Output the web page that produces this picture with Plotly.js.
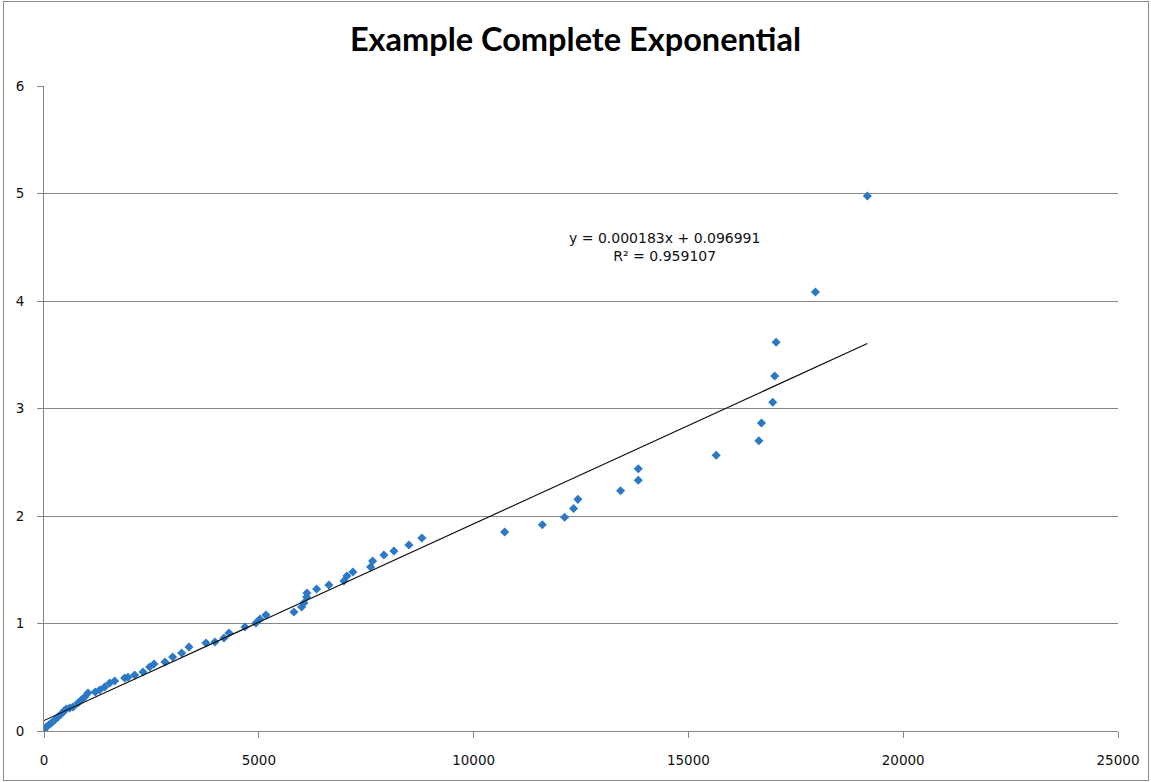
<!DOCTYPE html>
<html>
<head>
<meta charset="utf-8">
<script src="https://cdn.plot.ly/plotly-3.0.1.min.js"></script>
<style>
  html, body { margin: 0; padding: 0; background: #fff; }
  #chart { width: 1151px; height: 782px; }
  #frame { position: absolute; left: 3px; top: 1px; width: 1144px; height: 778px; border: 1px solid #8c8c8c; pointer-events: none; }
</style>
</head>
<body>
<div id="chart"></div>
<div id="frame"></div>
<script>
// Data points
const xValues = [0, 54, 109, 170, 249, 326, 403, 465, 519, 598, 675, 791, 868, 947, 1024,
  1194, 1296, 1412, 1529, 1645, 1878, 1955, 2111, 2304, 2460, 2560, 2816, 2995, 3204, 3374,
  3770, 3979, 4189, 4305, 4677, 4933, 5026, 5166, 5818, 5997, 6050, 6113, 6120, 6346, 6632,
  6981, 7051, 7190, 7602, 7649, 7912, 8145, 8494, 8796,
  10723, 11600, 12119, 12328, 12428, 13421, 13833, 13833, 15647, 16640, 16700, 16963, 17010,
  17042, 17957, 19166];
const yValues = [0, 0.037, 0.056, 0.074, 0.102, 0.130, 0.158, 0.186, 0.205, 0.214, 0.223, 0.260, 0.288, 0.316, 0.353,
  0.363, 0.381, 0.409, 0.447, 0.465, 0.493, 0.500, 0.521, 0.549, 0.595, 0.623, 0.642, 0.688, 0.726, 0.781,
  0.819, 0.828, 0.865, 0.912, 0.967, 1.005, 1.042, 1.079, 1.107, 1.153, 1.191, 1.247, 1.284, 1.321, 1.358,
  1.395, 1.442, 1.479, 1.526, 1.581, 1.637, 1.674, 1.730, 1.795,
  1.851, 1.919, 1.988, 2.070, 2.155, 2.235, 2.332, 2.440, 2.565, 2.700, 2.865, 3.058, 3.302,
  3.616, 4.084, 4.977];

// Trendline as printed on the chart
const trendSlope = 0.000183;
const trendIntercept = 0.096991;
const trendLabel = ["y = 0.000183x + 0.096991", "R² = 0.959107"];

const xTicks = [0, 5000, 10000, 15000, 20000, 25000];
const yTicks = [0, 1, 2, 3, 4, 5, 6];

const xMin = Math.min(...xValues), xMax = Math.max(...xValues);
const trendX = [xMin, xMax];
const trendY = trendX.map(v => trendSlope * v + trendIntercept);

const gray = '#868686';
const titleFont = 'Lato, Carlito, "Open Sans", sans-serif';
const font = '"DejaVu Sans", "Open Sans", sans-serif';

const traces = [
  {
    x: xValues, y: yValues, type: 'scatter', mode: 'markers',
    marker: { symbol: 'diamond', size: 7, color: '#2a78c6' },
    hoverinfo: 'x+y', showlegend: false
  },
  {
    x: trendX, y: trendY, type: 'scatter', mode: 'lines',
    line: { color: '#111111', width: 1.2 },
    hoverinfo: 'skip', showlegend: false
  }
];

const layout = {
  width: 1151, height: 782,
  margin: { l: 44, r: 33, t: 86, b: 51 },
  paper_bgcolor: '#ffffff', plot_bgcolor: '#ffffff',
  font: { family: font, size: 13.5, color: '#111' },
  title: {
    text: '<b>Example Complete Exponential</b>',
    font: { family: titleFont, size: 32.5, color: '#000' },
    x: 0.5, xanchor: 'center', y: 0.949, yanchor: 'middle'
  },
  xaxis: {
    range: [0, 25000], tickvals: xTicks, ticktext: xTicks.map(String),
    showgrid: false, zeroline: false,
    showline: true, linecolor: gray, linewidth: 1,
    ticks: 'outside', ticklen: 6, tickcolor: gray,
    ticklabelstandoff: 11,
    tickfont: { family: font, size: 13.5, color: '#111' },
    fixedrange: true
  },
  yaxis: {
    range: [0, 6], tickvals: yTicks, ticktext: yTicks.map(String),
    showgrid: true, gridcolor: gray, gridwidth: 1, zeroline: false,
    showline: true, linecolor: gray, linewidth: 1,
    ticks: 'outside', ticklen: 6, tickcolor: gray,
    ticklabelstandoff: 10,
    tickfont: { family: font, size: 13.5, color: '#111' },
    fixedrange: true
  },
  annotations: [
    {
      xref: 'x', yref: 'y', x: 14445, y: 4.5,
      text: trendLabel.join('<br>'), showarrow: false,
      font: { family: font, size: 14, color: '#111' },
      align: 'center', xanchor: 'center', yanchor: 'middle'
    }
  ]
};

Plotly.newPlot('chart', traces, layout, { displayModeBar: false, staticPlot: true });
</script>
</body>
</html>
